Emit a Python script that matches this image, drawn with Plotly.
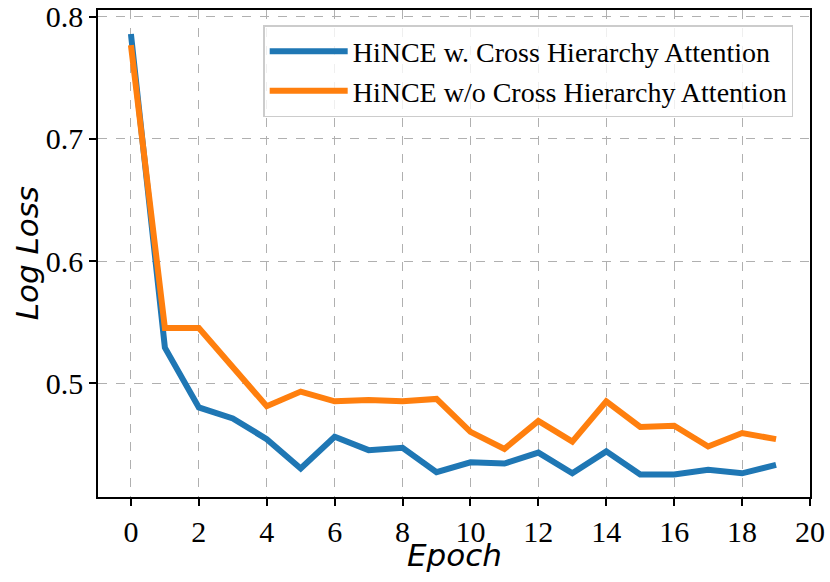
import plotly.graph_objects as go

epochs = list(range(20))
loss_with_cha = [0.786, 0.529, 0.480, 0.471, 0.454, 0.430, 0.456, 0.445, 0.447, 0.427,
                 0.435, 0.434, 0.443, 0.426, 0.444, 0.425, 0.425, 0.429, 0.426, 0.433]
loss_without_cha = [0.777, 0.545, 0.545, 0.513, 0.481, 0.493, 0.485, 0.486, 0.485, 0.487,
                    0.460, 0.446, 0.469, 0.452, 0.485, 0.464, 0.465, 0.448, 0.459, 0.454]
names = ["HiNCE w. Cross Hierarchy Attention", "HiNCE w/o Cross Hierarchy Attention"]
x_ticks = list(range(0, 21, 2))
y_ticks = [0.5, 0.6, 0.7, 0.8]

serif = "Liberation Serif, Times New Roman, serif"
sans = "DejaVu Sans"

fig = go.Figure()
fig.add_trace(go.Scatter(x=epochs, y=loss_with_cha, mode="lines", name=names[0],
                         line=dict(color="#1f77b4", width=6)))
fig.add_trace(go.Scatter(x=epochs, y=loss_without_cha, mode="lines", name=names[1],
                         line=dict(color="#ff7f0e", width=6)))

axis_common = dict(
    showline=True, linecolor="black", linewidth=1.5, mirror=True,
    ticks="outside", ticklen=7, tickwidth=1.5, tickcolor="black",
    showgrid=True, gridcolor="#b0b0b0", griddash="dash", gridwidth=1.3,
    zeroline=False, automargin=False, ticklabeloverflow="allow",
    tickfont=dict(family=serif, size=30, color="black"),
)

fig.update_xaxes(range=[-0.97, 20], tickvals=x_ticks, **axis_common)
fig.update_yaxes(range=[0.4066, 0.8057], tickvals=y_ticks, tickformat=".1f", **axis_common)

# axis titles as annotations so they sit where the reference has them
fig.add_annotation(text="<i>Epoch</i>", xref="paper", yref="paper", x=0.5, y=-0.12,
                   xanchor="center", yanchor="middle", showarrow=False, borderpad=0,
                   font=dict(family=sans, size=31, color="black"))
fig.add_annotation(text="<i>Log Loss</i>", xref="paper", yref="paper", x=-0.1, y=0.5,
                   xanchor="center", yanchor="middle", textangle=-90, showarrow=False,
                   font=dict(family=sans, size=31, color="black"))

fig.update_layout(
    width=830, height=582,
    margin=dict(l=98, r=20, t=10, b=85),
    plot_bgcolor="white", paper_bgcolor="white",
    showlegend=True,
    legend=dict(x=0.232, y=0.969, xanchor="left", yanchor="top",
                bgcolor="rgba(255,255,255,0.8)", bordercolor="#cccccc", borderwidth=1.5,
                itemwidth=78,
                font=dict(family=serif, size=28, color="black")),
)

# drop the default 8px body margin so the figure fills the window exactly
fig.write_html("out.html", config={"displayModeBar": False},
               post_script="document.body.style.margin='0';")
